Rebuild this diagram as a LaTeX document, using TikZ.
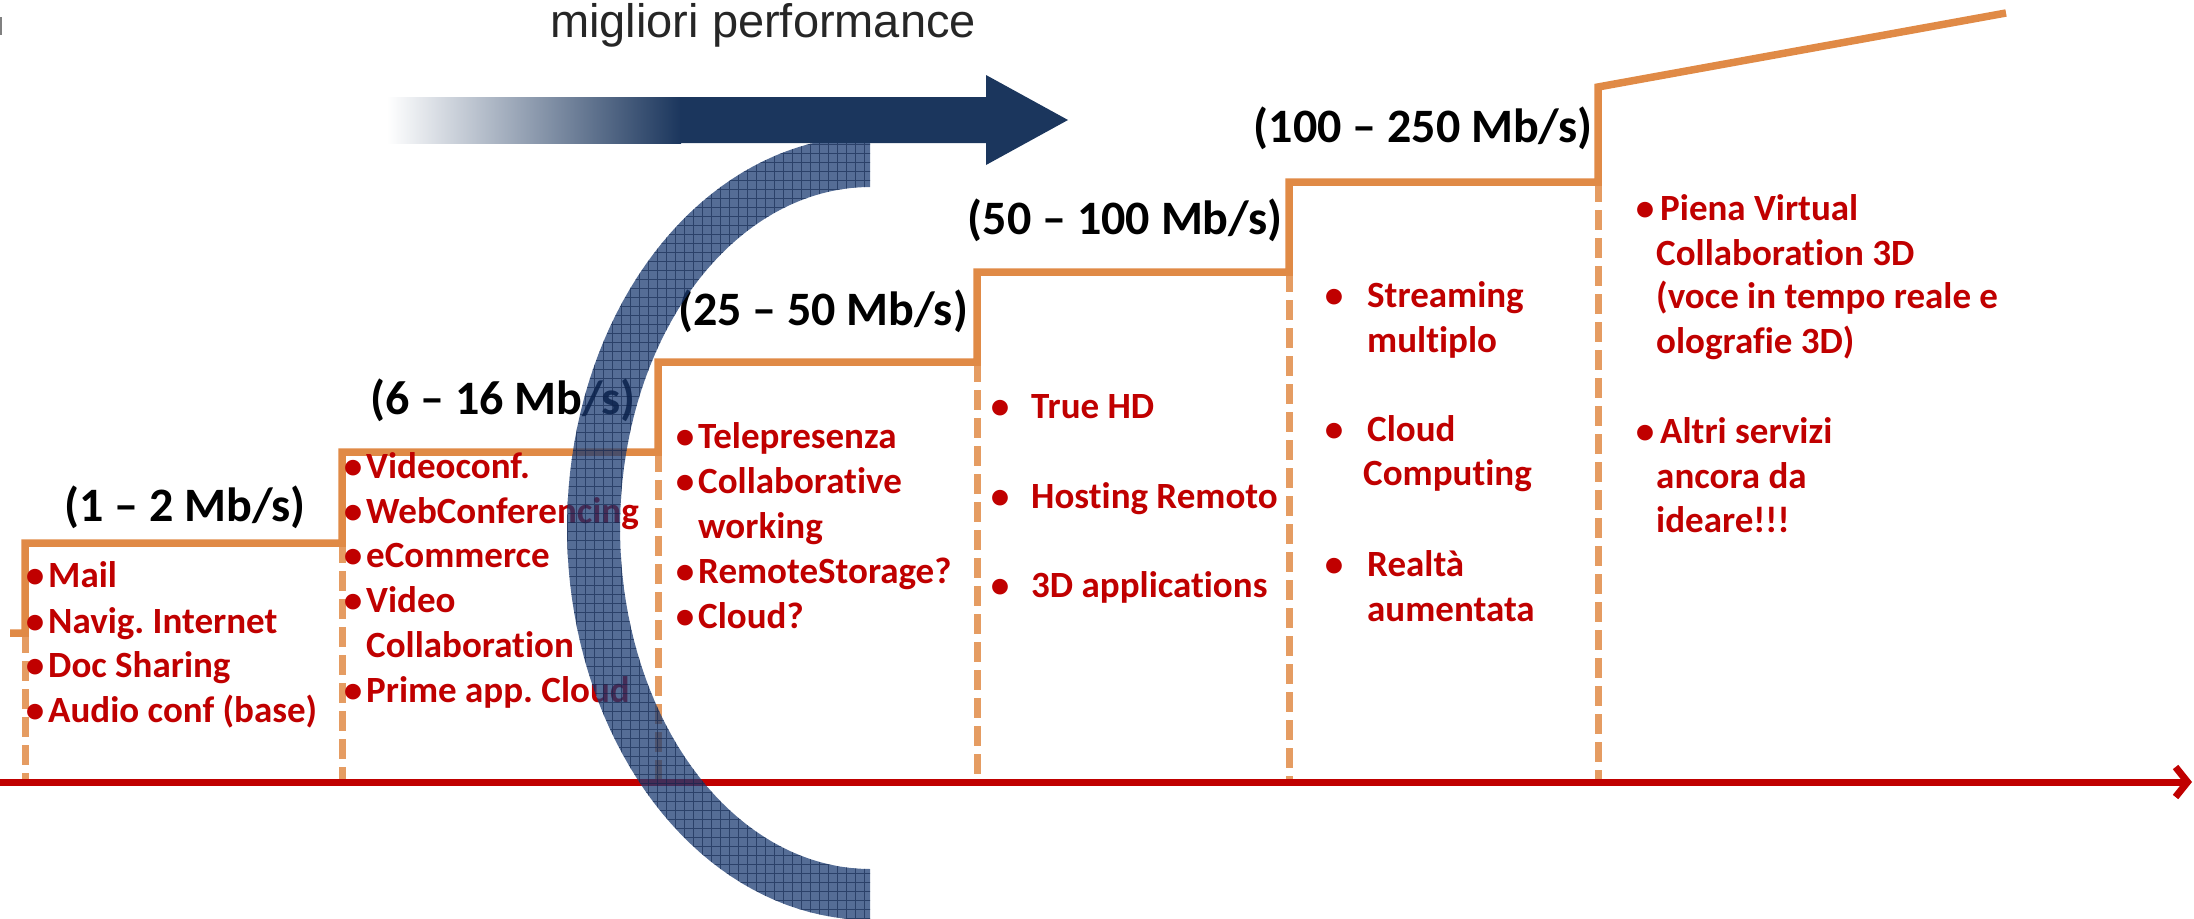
\documentclass[tikz,border=0pt]{standalone}
\usepackage{fontspec}
\newfontfamily\calfont[Ligatures=NoCommon]{Carlito}
\newfontfamily\arialfont{Liberation Sans}
\usetikzlibrary{arrows.meta}
\definecolor{stairor}{RGB}{224,138,70}
\definecolor{itemred}{RGB}{192,0,0}
\definecolor{navy}{RGB}{27,54,93}
\definecolor{bandfill}{RGB}{28,60,115}
\definecolor{bandgrid}{RGB}{15,35,75}
\definecolor{titlegray}{RGB}{38,38,38}
\newcommand\myitem[5]{%
  \node[bul] (#1b) at (#2,#4) {•};
  \node[item] (#1) at (#3,#4) {#5};}
\newcommand\mycont[4]{%
  \node[item] (#1) at (#2,#3) {#4};}
\frenchspacing
\begin{document}
\begin{tikzpicture}[x=1pt, y=-1pt,
  stair/.style={draw=stairor, line width=7.5pt},
  riser/.style={draw=stairor!85!white, line width=7pt, dash pattern=on 20pt off 8pt},
  axisline/.style={draw=itemred, line width=7pt, -{Straight Barb[length=12pt, width=30pt]}},
  item/.style={font=\calfont\bfseries\fontsize{37}{44}\selectfont\frenchspacing, text=itemred, inner sep=0pt, anchor=base west},
  bul/.style={item, anchor=base},
  rate/.style={font=\calfont\bfseries\fontsize{48}{56}\selectfont, text=black, inner sep=0pt, anchor=base},
  titletext/.style={font=\arialfont\fontsize{47}{56}\selectfont, text=titlegray, inner sep=0pt, anchor=base west}
]
\useasboundingbox (0,0) rectangle (2194,918);
\fill[gray] (0,17) rectangle (1.5,35);

% staircase coordinates
\coordinate (s0) at (10,633);
\coordinate (s1) at (25,633);
\coordinate (s2) at (25,543);
\coordinate (s3) at (342,543);
\coordinate (s4) at (342,452);
\coordinate (s5) at (658,452);
\coordinate (s6) at (658,362);
\coordinate (s7) at (977,362);
\coordinate (s8) at (977,272);
\coordinate (s9) at (1289,272);
\coordinate (s10) at (1289,182);
\coordinate (s11) at (1598,182);
\coordinate (s12) at (1598,87);
\coordinate (s13) at (2006,13);
\coordinate (ax0) at (0,782);
\coordinate (ax1) at (2192,782);

% dashed risers
\foreach \s in {s1,s3,s5,s7,s9,s11}
  \draw[riser] (\s) -- (\s |- ax0);

% staircase
\draw[stair] (s0) -- (s1) -- (s2) -- (s3) -- (s4) -- (s5) -- (s6) -- (s7) -- (s8) -- (s9) -- (s10) -- (s11) -- (s12) -- (s13);

% axis
\draw[axisline] (ax0) -- (ax1);

% rate labels
\node[rate] (r1) at (185,521) {(1 – 2 Mb/s)};
\node[rate] (r2) at (503,414) {(6 – 16 Mb/s)};
\node[rate] (r3) at (823,325) {(25 – 50 Mb/s)};
\node[rate] (r4) at (1125,234) {(50 – 100 Mb/s)};
\node[rate] (r5) at (1423,142) {(100 – 250 Mb/s)};

% column 1
\myitem{a1}{35}{48}{587}{Mail}
\myitem{a2}{35}{48}{633}{Navig. Internet}
\myitem{a3}{35}{48}{677}{Doc Sharing}
\myitem{a4}{35}{48}{722}{Audio conf (base)}
% column 2
\myitem{b1}{353}{366}{478}{Videoconf.}
\myitem{b2}{353}{366}{523}{WebConferencing}
\myitem{b3}{353}{366}{567}{eCommerce}
\myitem{b4}{353}{366}{612}{Video}
\mycont{b5}{366}{657}{Collaboration}
\myitem{b6}{353}{366}{702}{Prime app. Cloud}
% column 3
\myitem{c1}{685}{698}{448}{Telepresenza}
\myitem{c2}{685}{698}{493}{Collaborative}
\mycont{c3}{698}{538}{working}
\myitem{c4}{685}{698}{583}{RemoteStorage?}
\myitem{c5}{685}{698}{628}{Cloud?}
% column 4
\myitem{d1}{1000}{1031}{418}{True HD}
\myitem{d2}{1000}{1031}{508}{Hosting Remoto}
\myitem{d3}{1000}{1031}{597}{3D applications}
% column 5
\myitem{e1}{1334}{1367}{307}{Streaming}
\mycont{e2}{1367}{352}{multiplo}
\myitem{e3}{1334}{1367}{441}{Cloud}
\mycont{e4}{1363}{485}{Computing}
\myitem{e5}{1334}{1367}{576}{Realtà}
\mycont{e6}{1367}{621}{aumentata}
% column 6
\myitem{f1}{1645}{1660}{220}{Piena Virtual}
\mycont{f2}{1656}{265}{Collaboration 3D}
\mycont{f3}{1656}{308}{(voce in tempo reale e}
\mycont{f4}{1656}{353}{olografie 3D)}
\myitem{f5}{1645}{1660}{443}{Altri servizi}
\mycont{f6}{1656}{488}{ancora da}
\mycont{f7}{1656}{532}{ideare!!!}

% curved band
\begin{scope}
  \clip plot[domain=90:270, samples=80] ({870+303*cos(\x)}, {528-392*sin(\x)})
     -- plot[domain=270:90, samples=80] ({870+250*cos(\x)}, {528-341*sin(\x)}) -- cycle;
  \fill[bandfill, fill opacity=0.75] (540,100) rectangle (900,940);
  \draw[bandgrid, draw opacity=0.6, line width=0.9pt, step=9pt] (540,100) grid (900,940);
\end{scope}

% horizontal arrow
\shade[left color=white, right color=navy] (387,97) rectangle (681,143);
\fill[navy] (680,97) -- (986,97) -- (986,75) -- (1068,120) -- (986,165) -- (986,143) -- (680,143) -- cycle;

% title
\node[titletext] (title) at (550,37) {migliori performance};
\end{tikzpicture}
\end{document}
